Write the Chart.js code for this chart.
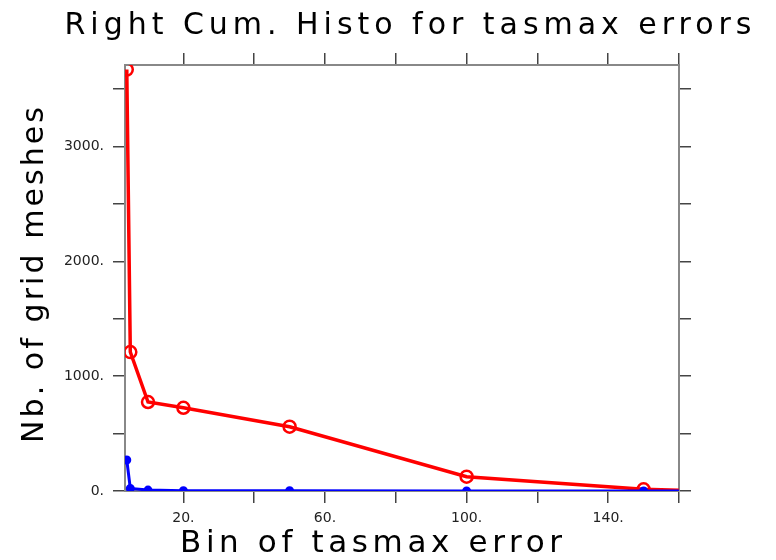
<!DOCTYPE html>
<html>
<head>
<meta charset="utf-8">
<script src="https://cdn.jsdelivr.net/npm/chart.js@4"></script>
<style>
  html, body { margin: 0; padding: 0; background: #fff; }
</style>
</head>
<body>
<canvas id="histoChart" width="776" height="560"></canvas>
<script>
// bins of tasmax error and the right-cumulative counts
const bins = [4, 5, 10, 20, 50, 100, 150, 160];
const redCounts = [3670, 1210, 775, 725, 560, 125, 15, 6];
const blueCounts = [270, 22, 8, 3, 2, 1, 1, 0];
const xTicks = [20, 40, 60, 80, 100, 120, 140, 160];
const xLabelled = [20, 60, 100, 140];
const yTicks = [0, 500, 1000, 1500, 2000, 2500, 3000, 3500];
const yLabelled = [0, 1000, 2000, 3000];

const toPoints = vals => bins.map((b, i) => ({ x: b, y: vals[i] }));
const lastHidden = r => ctx => (ctx.dataIndex === bins.length - 1 ? 0 : r);

// NCL-like titles with wide letter spacing
function spacedText(ctx, text, cx, base, width, size, rotate) {
  ctx.save();
  ctx.font = size + 'px "DejaVu Sans"';
  const w0 = ctx.measureText(text).width;
  const sp = (width - w0) / (text.length - 1);
  ctx.translate(cx, base);
  if (rotate) ctx.rotate(-Math.PI / 2);
  ctx.letterSpacing = sp + 'px';
  ctx.fillStyle = '#000';
  ctx.textAlign = 'left';
  ctx.textBaseline = 'alphabetic';
  ctx.fillText(text, -width / 2, 0);
  ctx.restore();
}

const titles = {
  id: 'nclTitles',
  afterDraw(chart) {
    const ctx = chart.ctx;
    spacedText(ctx, 'Right Cum. Histo for tasmax errors', 408, 34, 687, 30, false);
    spacedText(ctx, 'Bin of tasmax error', 371, 552, 382, 31, false);
    spacedText(ctx, 'Nb. of grid meshes', 43, 275, 336, 30, true);
  }
};

const gridOpts = { drawOnChartArea: false, color: '#444', lineWidth: 1.5, tickLength: 12 };
const borderOpts = { display: true, color: '#888', width: 2 };
const tickFont = { family: '"DejaVu Sans"', size: 14 };

new Chart(document.getElementById('histoChart'), {
  type: 'line',
  data: {
    datasets: [
      {
        label: 'blue',
        data: toPoints(blueCounts),
        borderColor: '#0000ff',
        backgroundColor: '#0000ff',
        borderWidth: 3,
        pointRadius: lastHidden(3),
        pointBackgroundColor: '#0000ff',
        pointBorderColor: '#0000ff',
        tension: 0
      },
      {
        label: 'red',
        data: toPoints(redCounts),
        borderColor: '#ff0000',
        borderWidth: 3.5,
        pointRadius: lastHidden(6),
        pointBorderWidth: 2.5,
        pointBackgroundColor: 'rgba(0,0,0,0)',
        pointBorderColor: '#ff0000',
        tension: 0
      }
    ]
  },
  options: {
    responsive: false,
    animation: false,
    layout: { padding: 0 },
    plugins: { legend: { display: false }, tooltip: { enabled: false } },
    scales: {
      x: {
        type: 'linear', position: 'bottom', min: 3.5, max: 160,
        afterBuildTicks: s => { s.ticks = xTicks.map(v => ({ value: v })); },
        afterFit: s => { s.height = 69; },
        grid: gridOpts, border: borderOpts,
        ticks: {
          autoSkip: false, maxRotation: 0, padding: 7, color: '#222', font: tickFont,
          callback: v => (xLabelled.includes(v) ? v + '.' : '')
        }
      },
      x2: {
        type: 'linear', position: 'top', min: 3.5, max: 160,
        afterBuildTicks: s => { s.ticks = xTicks.map(v => ({ value: v })); },
        afterFit: s => { s.height = 65; },
        grid: gridOpts, border: borderOpts,
        ticks: { autoSkip: false, maxRotation: 0, callback: () => '' }
      },
      y: {
        type: 'linear', position: 'left', min: 0, max: 3710,
        afterBuildTicks: s => { s.ticks = yTicks.map(v => ({ value: v })); },
        afterFit: s => { s.width = 125; },
        grid: gridOpts, border: borderOpts,
        ticks: {
          autoSkip: false, padding: 9, color: '#222', font: tickFont,
          callback: v => (yLabelled.includes(v) ? v + '.' : '')
        }
      },
      y2: {
        type: 'linear', position: 'right', min: 0, max: 3710,
        afterBuildTicks: s => { s.ticks = yTicks.map(v => ({ value: v })); },
        afterFit: s => { s.width = 97; },
        grid: gridOpts, border: borderOpts,
        ticks: { autoSkip: false, callback: () => '' }
      }
    }
  },
  plugins: [titles]
});
</script>
</body>
</html>
